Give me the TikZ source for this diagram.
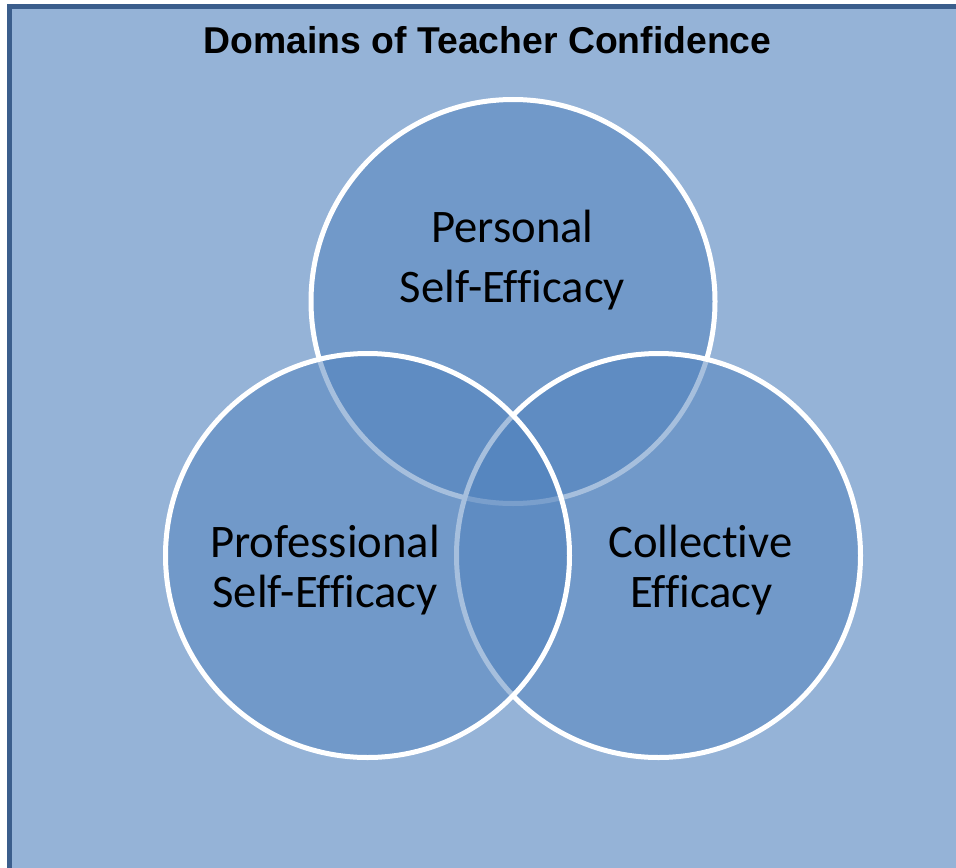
\documentclass[tikz,border=0pt]{standalone}
\usepackage{fontspec}
\setmainfont{Carlito}[RawFeature={-liga;-clig;-dlig;-calt}]
\newfontfamily\titlefont{Liberation Sans}
\definecolor{bgblue}{HTML}{95B3D7}
\definecolor{frameblue}{HTML}{3B5E8C}
\definecolor{vennblue}{HTML}{4F81BD}
\tikzset{
  venn/.style={draw=white, line width=3.75pt, fill=vennblue, fill opacity=0.5, draw opacity=1},
  lbl/.style={anchor=base, inner sep=0pt, font=\fontsize{35}{40}\selectfont, text=black},
  ttl/.style={anchor=base, inner sep=0pt, font=\titlefont\bfseries\fontsize{28}{32}\selectfont, text=black}
}
\begin{document}
\begin{tikzpicture}[x=0.75pt,y=-0.75pt]
\useasboundingbox (0,0) rectangle (956,867);
\begin{scope}
\clip (0,0) rectangle (956,867);
\fill[white] (0,0) rectangle (956,867);
\draw[frameblue, line width=3.75pt, fill=bgblue] (9.5,7) rectangle (965,870);
\end{scope}
\node[ttl] (title) at (487.5,54) {Domains of Teacher Confidence};
\draw[venn] (513,301.5) circle [radius=202];
\draw[venn] (658.5,555.5) circle [radius=202];
\draw[venn] (367.5,555.5) circle [radius=202];
\node[lbl] (p1) at (512.5,242) {Personal};
\node[lbl] (p2) at (512.5,302) {Self-Efficacy};
\node[lbl] (q1) at (325,557) {Professional};
\node[lbl] (q2) at (325,607) {Self-Efficacy};
\node[lbl] (c1) at (700.5,557) {Collective};
\node[lbl] (c2) at (701.5,607) {Efficacy};
\end{tikzpicture}
\end{document}
